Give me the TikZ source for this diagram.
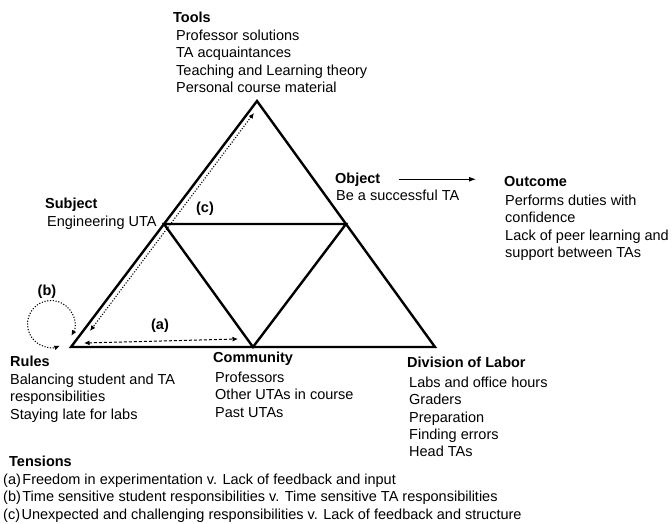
\documentclass[tikz,border=0pt]{standalone}
\usepackage{fontspec}
\setmainfont{Liberation Sans}
\usetikzlibrary{arrows.meta}
\newcommand\blockfont{\fontsize{14.5}{17.4}\selectfont}
\begin{document}
\begin{tikzpicture}[x=1pt,y=-1pt,
  title/.style={anchor=base west, inner sep=0pt, font=\blockfont\bfseries},
  body/.style={anchor=north west, inner sep=0pt, align=left, font=\blockfont, yshift=12.18pt},
  tag/.style={inner sep=0pt, font=\blockfont\bfseries},
  edge/.style={line width=2.4pt, line join=miter},
  tensiondash/.style={line width=1pt, dash pattern=on 3pt off 2pt, {Latex[length=5.5pt,width=5pt]}-{Latex[length=5.5pt,width=5pt]}},
  tensiondot/.style={line width=1.1pt, dash pattern=on 1.1pt off 1.7pt, {Latex[length=5.5pt,width=5pt]}-{Latex[length=5.5pt,width=5pt]}}]
\useasboundingbox (0,0) rectangle (672,523);

% activity triangle and its inner triangle
\coordinate (A)  at (257,101);
\coordinate (BL) at (71,347);
\coordinate (BR) at (435,347);
\coordinate (ML) at (164,224);
\coordinate (MR) at (346,224);
\coordinate (MB) at (253,347);
\draw[edge] (A) -- (BL) -- (BR) -- cycle;
\draw[edge] (ML) -- (MR) -- (MB) -- cycle;

% labelled blocks
\node[title] (toolst) at (173,22) {Tools};
\node[body]  (toolsb) at (176,40) {\strut Professor solutions\\TA acquaintances\\Teaching and Learning theory\\Personal course material};

\node[title] (subjt) at (45,208) {Subject};
\node[body]  (subjb) at (47,226) {\strut Engineering UTA};

\node[title] (objt) at (335,183) {Object};
\node[body]  (objb) at (336,200) {\strut Be a successful TA};

\node[title] (outt) at (504,186) {Outcome};
\node[body]  (outb) at (505,205) {\strut Performs duties with\\confidence\\Lack of peer learning and\\support between TAs};

\node[title] (rulest) at (10,366) {Rules};
\node[body]  (rulesb) at (10,384) {\strut Balancing student and TA\\responsibilities\\Staying late for labs};

\node[title] (commt) at (213,362) {Community};
\node[body]  (commb) at (215,382) {\strut Professors\\Other UTAs in course\\Past UTAs};

\node[title] (divt) at (407,367) {Division of Labor};
\node[body]  (divb) at (409,387) {\strut Labs and office hours\\Graders\\Preparation\\Finding errors\\Head TAs};

\node[title] (tent) at (9,466) {Tensions};
\node[body]  (tenb) at (3,484) {\strut(a)\hspace{1.5pt}Freedom in experimentation v. Lack of feedback and input\\
(b)\hspace{1.5pt}Time sensitive student responsibilities v. Time sensitive TA responsibilities\\
(c)\hspace{1.5pt}Unexpected and challenging responsibilities v. Lack of feedback and structure};

% object leads to outcome
\draw[line width=0.9pt, -{Latex[length=7pt,width=5pt]}, shorten <=18pt, shorten >=28pt]
  (objt.east) -- (objt.east -| outt.west);

% tensions
\coordinate (a1) at (84,343);
\coordinate (a2) at (238,339);
\draw[tensiondash] (a1) -- (a2);
\node[tag] (atag) at (160,326) {(a)};

\coordinate (c1) at (254,113);
\coordinate (c2) at (90,331);
\draw[tensiondot] (c1) -- (c2);
\node[tag] (ctag) at (205,209) {(c)};

\coordinate (bc) at (51,324);
\draw[tensiondot] ([shift={(30:23.5)}]bc) arc[start angle=30, end angle=-292, radius=23.5];
\node[tag] (btag) at (47,292) {(b)};
\end{tikzpicture}
\end{document}
